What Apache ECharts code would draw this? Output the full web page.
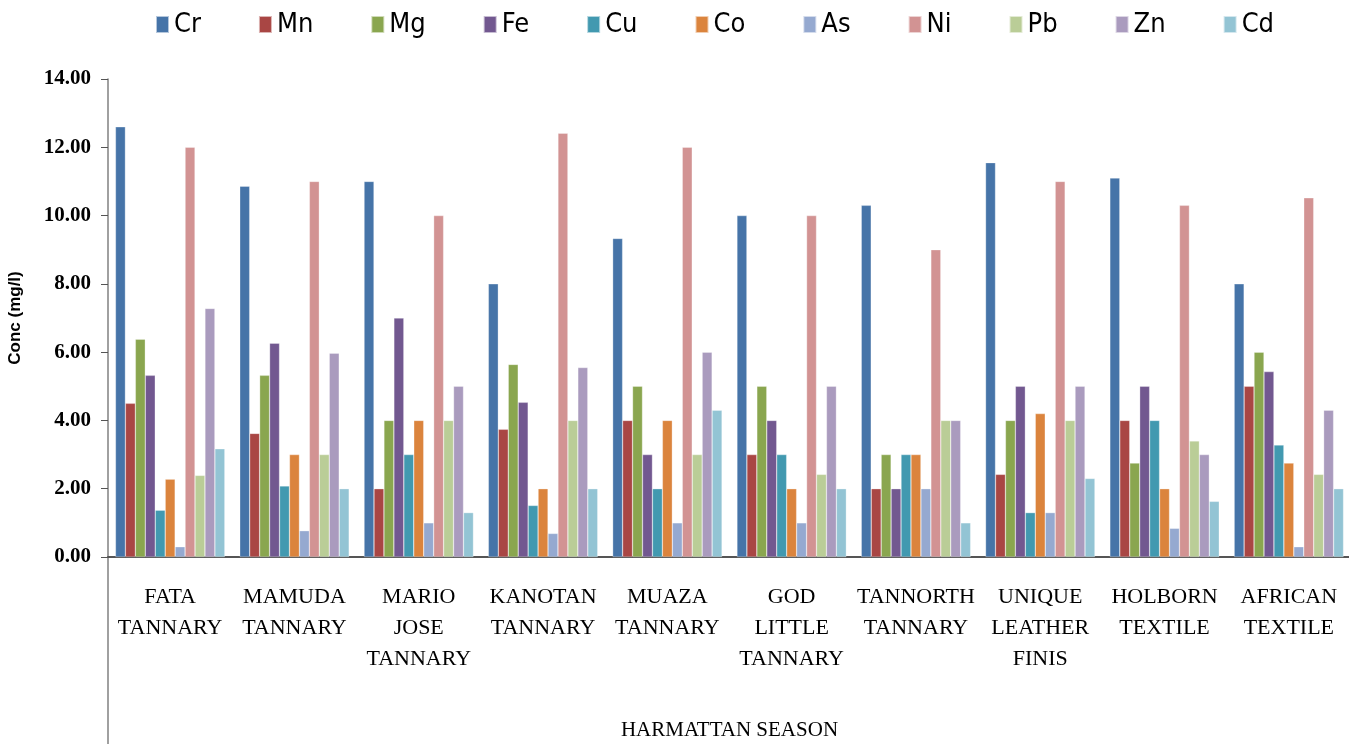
<!DOCTYPE html>
<html>
<head>
<meta charset="utf-8">
<script src="https://cdn.jsdelivr.net/npm/echarts@6/dist/echarts.min.js"></script>
<style>html,body{margin:0;padding:0;background:#fff}#c{width:1349px;height:744px}</style>
</head>
<body>
<div id="c"></div>
<script>
const categories = ["FATA TANNARY","MAMUDA TANNARY","MARIO JOSE TANNARY","KANOTAN TANNARY","MUAZA TANNARY","GOD LITTLE TANNARY","TANNORTH TANNARY","UNIQUE LEATHER FINIS","HOLBORN TEXTILE","AFRICAN TEXTILE"];
const seriesNames = ["Cr","Mn","Mg","Fe","Cu","Co","As","Ni","Pb","Zn","Cd"];
const Cr = [12.6, 10.86, 11.0, 8.0, 9.33, 10.0, 10.3, 11.55, 11.1, 8.0];
const Mn = [4.5, 3.62, 2.0, 3.74, 4.0, 3.0, 2.0, 2.42, 4.0, 5.0];
const Mg = [6.38, 5.32, 4.0, 5.64, 5.0, 5.0, 3.0, 4.0, 2.75, 6.0];
const Fe = [5.32, 6.26, 7.0, 4.53, 3.0, 4.0, 2.0, 5.0, 5.0, 5.43];
const Cu = [1.37, 2.08, 3.0, 1.51, 2.0, 3.0, 3.0, 1.3, 4.0, 3.28];
const Co = [2.28, 3.0, 4.0, 2.0, 4.0, 2.0, 3.0, 4.2, 2.0, 2.75];
const As = [0.3, 0.77, 1.0, 0.69, 1.0, 1.0, 2.0, 1.3, 0.84, 0.3];
const Ni = [12.0, 11.0, 10.0, 12.41, 12.0, 10.0, 9.0, 11.0, 10.3, 10.52];
const Pb = [2.39, 3.0, 4.0, 4.0, 3.0, 2.42, 4.0, 4.0, 3.4, 2.42];
const Zn = [7.28, 5.97, 5.0, 5.55, 6.0, 5.0, 4.0, 5.0, 3.0, 4.3];
const Cd = [3.17, 2.0, 1.3, 2.0, 4.3, 2.0, 1.0, 2.3, 1.63, 2.0];
const yTicks = {min: 0, max: 14, interval: 2};
const xTitle = "HARMATTAN SEASON";
const yTitle = "Conc (mg/l)";

const values = [Cr, Mn, Mg, Fe, Cu, Co, As, Ni, Pb, Zn, Cd];
const colors = ["#4674a8","#a94644","#8aa64f","#725890","#4299b0","#db843d","#95a9d0","#d29393","#bacd97","#aa9bbe","#93c4d4"];

const chart = echarts.init(document.getElementById('c'), null, {renderer: 'canvas'});
chart.setOption({
  backgroundColor: '#fff',
  animation: false,
  color: colors,
  legend: {
    top: 6,
    left: 150,
    itemWidth: 13,
    itemHeight: 17,
    itemGap: 57,
    icon: 'rect',
    textStyle: {fontFamily: "'Liberation Sans Narrow','DejaVu Sans Condensed',sans-serif", fontSize: 27, color: '#000'},
    data: seriesNames
  },
  grid: {left: 108, top: 79, width: 1243, height: 478, outerBoundsMode: 'none', containLabel: false},
  xAxis: {
    type: 'category',
    data: categories,
    name: xTitle,
    nameLocation: 'middle',
    nameGap: 163,
    nameTextStyle: {fontFamily: "'Liberation Serif',serif", fontSize: 21, color: '#000'},
    axisLine: {lineStyle: {color: '#555', width: 2}},
    axisTick: {show: false},
    axisLabel: {
      interval: 0,
      margin: 25,
      fontFamily: "'Liberation Serif',serif",
      fontSize: 22,
      lineHeight: 31,
      color: '#000',
      formatter: v => v.split(' ').join('\n')
    }
  },
  yAxis: {
    type: 'value',
    min: yTicks.min, max: yTicks.max, interval: yTicks.interval,
    name: yTitle,
    nameLocation: 'middle',
    nameGap: 84,
    nameTextStyle: {fontFamily: "'Liberation Sans',Arial,sans-serif", fontSize: 17, fontWeight: 'bold', color: '#000'},
    axisLine: {show: true, lineStyle: {color: '#808080', width: 1.5}},
    axisTick: {show: true, length: 7, lineStyle: {color: '#555'}},
    splitLine: {show: false},
    axisLabel: {
      margin: 17,
      fontFamily: "'Liberation Serif',serif",
      fontSize: 21,
      fontWeight: 'bold',
      color: '#000',
      formatter: v => v.toFixed(2)
    }
  },
  graphic: [{
    type: 'line',
    shape: {x1: 108, y1: 557, x2: 108, y2: 744},
    style: {stroke: '#808080', lineWidth: 1.5}
  }],
  series: seriesNames.map((n, i) => ({
    name: n,
    type: 'bar',
    data: values[i],
    barGap: '0%',
    barCategoryGap: '12%',
    itemStyle: {borderColor: 'rgba(255,255,255,0.6)', borderWidth: 0.5}
  }))
});
</script>
</body>
</html>
